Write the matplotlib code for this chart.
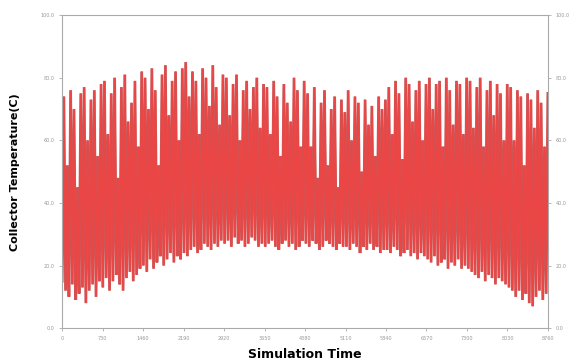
import matplotlib
matplotlib.use("Agg")
import matplotlib.pyplot as plt
import numpy as np

# daily-ish peak and trough temperatures (deg C)
peaks = [
    74, 52, 76, 70, 45, 75, 77, 60, 73, 76, 55, 78,
    79, 62, 75, 80, 48, 77, 81, 66, 72, 79, 58, 82,
    80, 70, 83, 76, 52, 81, 84, 68, 79, 82, 60, 83,
    85, 74, 82, 79, 62, 83, 80, 71, 84, 77, 65, 81,
    80, 68, 78, 81, 60, 76, 79, 70, 77, 80, 64, 78,
    77, 62, 79, 74, 55, 78, 72, 66, 80, 76, 58, 79,
    75, 58, 77, 48, 72, 76, 52, 70, 74, 45, 73, 69,
    76, 60, 74, 72, 50, 73, 65, 71, 55, 74, 70, 73,
    77, 62, 79, 75, 54, 80, 78, 66, 76, 79, 60, 78,
    80, 70, 78, 79, 58, 80, 76, 65, 79, 78, 62, 80,
    79, 64, 77, 80, 58, 76, 79, 68, 78, 75, 60, 78,
    77, 60, 76, 74, 52, 75, 73, 64, 76, 72, 58, 75,
]
troughs = [
    15, 12, 10, 14, 9, 11, 13, 8, 12, 14, 10, 15,
    13, 16, 12, 15, 17, 14, 12, 16, 18, 15, 17, 19,
    20, 18, 22, 19, 21, 23, 20, 22, 24, 21, 23, 22,
    24, 23, 25, 26, 24, 25, 27, 26, 25, 27, 26, 28,
    27, 28, 26, 29, 27, 28, 26, 27, 29, 28, 26, 27,
    26, 27, 28, 26, 25, 27, 28, 26, 27, 25, 26, 28,
    27, 26, 28, 27, 25, 26, 28, 27, 26, 25, 27, 26,
    26, 25, 27, 26, 24, 26, 25, 27, 25, 26, 24, 25,
    25, 24, 26, 25, 23, 24, 25, 23, 24, 22, 24, 23,
    22, 21, 23, 20, 21, 22, 19, 21, 20, 22, 19, 20,
    19, 18, 17, 16, 18, 15, 17, 16, 14, 16, 15, 14,
    13, 12, 10, 12, 9, 11, 8, 7, 10, 12, 9, 11,
]
xticks = [0, 730, 1460, 2190, 2920, 3650, 4380, 5110, 5840, 6570, 7300, 8030, 8760]
yticks = [0.0, 20.0, 40.0, 60.0, 80.0, 100.0]

# interleave troughs and peaks into one hourly-like trace
n = len(peaks)
temp = np.empty(2 * n)
temp[0::2] = troughs
temp[1::2] = peaks
hours = np.linspace(0, 8760, 2 * n)

fig = plt.figure(figsize=(5.81, 3.61), dpi=100)
ax = fig.add_axes([0.107, 0.091, 0.836, 0.867])
ax.plot(hours, temp, color="#c85a5a", lw=2.0, solid_joinstyle="bevel")
ax.plot(hours, temp, color="#ea4646", lw=1.3, solid_joinstyle="bevel")

ax.set_xlim(0, 8760)
ax.set_ylim(0, 100)
ax.set_xticks(xticks)
ax.set_xticklabels([str(t) for t in xticks])
ax.set_yticks(yticks)
ax.set_yticklabels(["%.1f" % t for t in yticks])
ax.tick_params(labelsize=3.5, colors="#999999", length=2, width=0.5,
               right=True, labelright=True)
for s in ax.spines.values():
    s.set_color("#aaaaaa")
    s.set_linewidth(0.8)

ax.set_xlabel("Simulation Time", fontsize=9, fontweight="bold", labelpad=5)
ax.set_ylabel("Collector Temperature(C)", fontsize=8, fontweight="bold", labelpad=15)

fig.savefig("out.png", dpi=100)
